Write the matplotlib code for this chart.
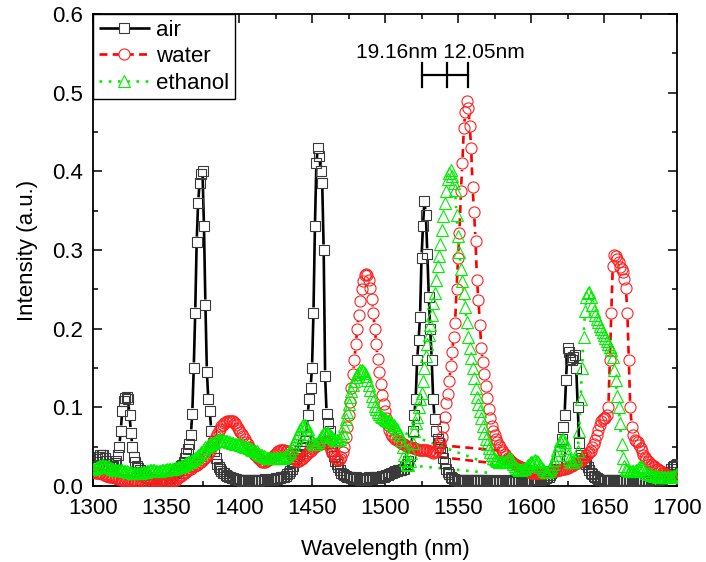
import numpy as np
import matplotlib
matplotlib.use('Agg')
import matplotlib.pyplot as plt
from matplotlib.collections import LineCollection
from matplotlib.lines import Line2D
from matplotlib.ticker import MultipleLocator

plt.rcParams['font.family'] = ['Liberation Sans', 'DejaVu Sans']

# spectra, 1 nm step from 1300 to 1700 nm
wavelength = np.arange(1300, 1701)

air = [
    0.022, 0.026, 0.030, 0.034, 0.037, 0.039, 0.040, 0.039, 0.036, 0.032,  # 1300
    0.028, 0.025, 0.024, 0.025, 0.026, 0.029, 0.032, 0.040, 0.050, 0.070,  # 1310
    0.095, 0.108, 0.112, 0.113, 0.110, 0.090, 0.068, 0.050, 0.037, 0.030,  # 1320
    0.026, 0.023, 0.020, 0.018, 0.016, 0.014, 0.012, 0.011, 0.010, 0.009,  # 1330
    0.008, 0.007, 0.007, 0.006, 0.006, 0.006, 0.005, 0.005, 0.005, 0.006,  # 1340
    0.006, 0.007, 0.008, 0.010, 0.012, 0.014, 0.016, 0.018, 0.020, 0.023,  # 1350
    0.025, 0.027, 0.030, 0.036, 0.042, 0.047, 0.054, 0.065, 0.092, 0.150,  # 1360
    0.220, 0.310, 0.360, 0.385, 0.397, 0.400, 0.330, 0.230, 0.145, 0.110,  # 1370
    0.095, 0.070, 0.055, 0.045, 0.035, 0.028, 0.024, 0.021, 0.019, 0.017,  # 1380
    0.016, 0.014, 0.013, 0.012, 0.011, 0.010, 0.010, 0.009, 0.009, 0.008,  # 1390
    0.008, 0.007, 0.006, 0.007, 0.008, 0.007, 0.006, 0.007, 0.008, 0.007,  # 1400
    0.006, 0.007, 0.008, 0.007, 0.006, 0.008, 0.007, 0.008, 0.009, 0.008,  # 1410
    0.007, 0.008, 0.009, 0.008, 0.009, 0.010, 0.009, 0.010, 0.010, 0.011,  # 1420
    0.011, 0.012, 0.013, 0.015, 0.017, 0.019, 0.022, 0.026, 0.031, 0.035,  # 1430
    0.038, 0.041, 0.044, 0.048, 0.052, 0.057, 0.062, 0.090, 0.110, 0.125,  # 1440
    0.150, 0.220, 0.330, 0.410, 0.430, 0.420, 0.400, 0.385, 0.300, 0.140,  # 1450
    0.092, 0.080, 0.070, 0.055, 0.045, 0.038, 0.032, 0.028, 0.024, 0.020,  # 1460
    0.017, 0.015, 0.014, 0.013, 0.012, 0.011, 0.011, 0.010, 0.009, 0.010,  # 1470
    0.011, 0.010, 0.009, 0.008, 0.009, 0.010, 0.009, 0.008, 0.010, 0.011,  # 1480
    0.010, 0.009, 0.010, 0.011, 0.012, 0.011, 0.010, 0.012, 0.013, 0.012,  # 1490
    0.013, 0.014, 0.014, 0.015, 0.016, 0.017, 0.018, 0.019, 0.019, 0.020,  # 1500
    0.020, 0.020, 0.021, 0.022, 0.025, 0.028, 0.032, 0.038, 0.050, 0.070,  # 1510
    0.090, 0.110, 0.160, 0.185, 0.215, 0.290, 0.330, 0.362, 0.345, 0.295,  # 1520
    0.240, 0.200, 0.160, 0.110, 0.085, 0.070, 0.060, 0.055, 0.050, 0.043,  # 1530
    0.036, 0.029, 0.022, 0.018, 0.015, 0.012, 0.010, 0.009, 0.008, 0.008,  # 1540
    0.007, 0.006, 0.007, 0.008, 0.007, 0.006, 0.007, 0.008, 0.007, 0.006,  # 1550
    0.007, 0.008, 0.007, 0.006, 0.007, 0.007, 0.006, 0.007, 0.008, 0.007,  # 1560
    0.006, 0.007, 0.006, 0.005, 0.006, 0.007, 0.006, 0.005, 0.006, 0.007,  # 1570
    0.006, 0.005, 0.006, 0.007, 0.006, 0.005, 0.006, 0.007, 0.006, 0.006,  # 1580
    0.005, 0.006, 0.007, 0.006, 0.007, 0.008, 0.007, 0.006, 0.007, 0.008,  # 1590
    0.007, 0.007, 0.008, 0.007, 0.008, 0.009, 0.008, 0.008, 0.009, 0.009,  # 1600
    0.010, 0.011, 0.012, 0.014, 0.016, 0.019, 0.022, 0.026, 0.032, 0.038,  # 1610
    0.045, 0.060, 0.075, 0.090, 0.135, 0.175, 0.170, 0.162, 0.160, 0.164,  # 1620
    0.166, 0.150, 0.100, 0.055, 0.040, 0.036, 0.032, 0.030, 0.028, 0.024,  # 1630
    0.020, 0.017, 0.015, 0.013, 0.011, 0.010, 0.009, 0.008, 0.008, 0.007,  # 1640
    0.006, 0.007, 0.008, 0.007, 0.006, 0.007, 0.008, 0.007, 0.006, 0.007,  # 1650
    0.007, 0.006, 0.007, 0.008, 0.007, 0.006, 0.007, 0.008, 0.007, 0.006,  # 1660
    0.007, 0.008, 0.007, 0.006, 0.007, 0.008, 0.007, 0.006, 0.007, 0.007,  # 1670
    0.006, 0.007, 0.008, 0.007, 0.007, 0.007, 0.008, 0.008, 0.008, 0.009,  # 1680
    0.009, 0.010, 0.011, 0.013, 0.015, 0.018, 0.021, 0.024, 0.026, 0.027,  # 1690
    0.028]

water = [
    0.018, 0.018, 0.017, 0.017, 0.016, 0.016, 0.015, 0.015, 0.014, 0.013,  # 1300
    0.013, 0.012, 0.012, 0.011, 0.011, 0.010, 0.010, 0.009, 0.009, 0.008,  # 1310
    0.008, 0.008, 0.007, 0.007, 0.007, 0.006, 0.006, 0.006, 0.005, 0.005,  # 1320
    0.005, 0.005, 0.005, 0.004, 0.004, 0.004, 0.004, 0.004, 0.004, 0.004,  # 1330
    0.004, 0.004, 0.004, 0.004, 0.004, 0.004, 0.004, 0.004, 0.004, 0.004,  # 1340
    0.004, 0.004, 0.004, 0.005, 0.005, 0.006, 0.007, 0.008, 0.010, 0.011,  # 1350
    0.013, 0.014, 0.016, 0.017, 0.018, 0.020, 0.021, 0.022, 0.024, 0.025,  # 1360
    0.026, 0.027, 0.028, 0.030, 0.031, 0.033, 0.035, 0.036, 0.038, 0.041,  # 1370
    0.045, 0.049, 0.053, 0.058, 0.062, 0.066, 0.070, 0.073, 0.076, 0.078,  # 1380
    0.080, 0.081, 0.082, 0.083, 0.083, 0.083, 0.082, 0.080, 0.077, 0.074,  # 1390
    0.071, 0.069, 0.066, 0.063, 0.060, 0.056, 0.053, 0.050, 0.047, 0.044,  # 1400
    0.041, 0.039, 0.037, 0.035, 0.034, 0.032, 0.031, 0.031, 0.031, 0.032,  # 1410
    0.033, 0.034, 0.036, 0.037, 0.039, 0.041, 0.043, 0.045, 0.046, 0.046,  # 1420
    0.046, 0.046, 0.045, 0.044, 0.043, 0.041, 0.039, 0.036, 0.034, 0.033,  # 1430
    0.032, 0.032, 0.033, 0.034, 0.036, 0.038, 0.040, 0.042, 0.044, 0.045,  # 1440
    0.047, 0.048, 0.050, 0.051, 0.052, 0.053, 0.054, 0.055, 0.056, 0.057,  # 1450
    0.056, 0.053, 0.050, 0.046, 0.042, 0.039, 0.036, 0.034, 0.033, 0.034,  # 1460
    0.037, 0.043, 0.050, 0.062, 0.075, 0.090, 0.107, 0.124, 0.142, 0.160,  # 1470
    0.180, 0.200, 0.218, 0.235, 0.250, 0.261, 0.268, 0.270, 0.268, 0.262,  # 1480
    0.252, 0.238, 0.220, 0.200, 0.180, 0.162, 0.145, 0.130, 0.116, 0.104,  # 1490
    0.095, 0.087, 0.078, 0.071, 0.066, 0.063, 0.061, 0.060, 0.058, 0.057,  # 1500
    0.056, 0.055, 0.054, 0.053, 0.052, 0.051, 0.050, 0.050, 0.049, 0.048,  # 1510
    0.048, 0.047, 0.047, 0.046, 0.046, 0.046, 0.046, 0.046, 0.046, 0.046,  # 1520
    0.045, 0.044, 0.043, 0.042, 0.043, 0.045, 0.048, 0.052, 0.056, 0.062,  # 1530
    0.075, 0.088, 0.105, 0.117, 0.133, 0.152, 0.170, 0.190, 0.207, 0.250,  # 1540
    0.290, 0.322, 0.375, 0.410, 0.455, 0.475, 0.490, 0.480, 0.458, 0.430,  # 1550
    0.380, 0.348, 0.312, 0.262, 0.237, 0.205, 0.175, 0.157, 0.142, 0.127,  # 1560
    0.112, 0.098, 0.087, 0.076, 0.070, 0.065, 0.060, 0.056, 0.052, 0.049,  # 1570
    0.046, 0.043, 0.041, 0.038, 0.036, 0.034, 0.032, 0.030, 0.029, 0.028,  # 1580
    0.027, 0.026, 0.025, 0.024, 0.023, 0.022, 0.021, 0.020, 0.019, 0.018,  # 1590
    0.017, 0.017, 0.016, 0.016, 0.016, 0.016, 0.016, 0.017, 0.017, 0.017,  # 1600
    0.018, 0.018, 0.018, 0.018, 0.018, 0.019, 0.019, 0.019, 0.020, 0.020,  # 1610
    0.020, 0.021, 0.021, 0.022, 0.023, 0.023, 0.024, 0.025, 0.026, 0.027,  # 1620
    0.028, 0.029, 0.029, 0.030, 0.032, 0.033, 0.035, 0.037, 0.039, 0.041,  # 1630
    0.043, 0.045, 0.049, 0.053, 0.059, 0.065, 0.071, 0.078, 0.082, 0.085,  # 1640
    0.086, 0.087, 0.090, 0.100, 0.160, 0.220, 0.280, 0.294, 0.292, 0.289,  # 1650
    0.285, 0.279, 0.276, 0.272, 0.263, 0.252, 0.220, 0.160, 0.100, 0.075,  # 1660
    0.065, 0.058, 0.057, 0.056, 0.052, 0.048, 0.045, 0.040, 0.037, 0.034,  # 1670
    0.032, 0.030, 0.028, 0.027, 0.025, 0.024, 0.022, 0.021, 0.020, 0.019,  # 1680
    0.017, 0.016, 0.015, 0.014, 0.013, 0.013, 0.012, 0.012, 0.011, 0.011,  # 1690
    0.010]

ethanol = [
    0.021, 0.022, 0.023, 0.024, 0.025, 0.026, 0.027, 0.027, 0.026, 0.025,  # 1300
    0.025, 0.024, 0.023, 0.022, 0.021, 0.020, 0.020, 0.020, 0.020, 0.020,  # 1310
    0.020, 0.019, 0.019, 0.019, 0.018, 0.018, 0.018, 0.017, 0.017, 0.017,  # 1320
    0.017, 0.017, 0.017, 0.017, 0.018, 0.018, 0.018, 0.019, 0.019, 0.020,  # 1330
    0.020, 0.020, 0.020, 0.019, 0.019, 0.019, 0.019, 0.020, 0.020, 0.020,  # 1340
    0.020, 0.021, 0.021, 0.022, 0.022, 0.022, 0.023, 0.023, 0.024, 0.024,  # 1350
    0.025, 0.026, 0.027, 0.028, 0.029, 0.030, 0.031, 0.032, 0.033, 0.034,  # 1360
    0.035, 0.037, 0.039, 0.041, 0.043, 0.045, 0.047, 0.049, 0.050, 0.052,  # 1370
    0.053, 0.054, 0.055, 0.056, 0.057, 0.058, 0.058, 0.058, 0.058, 0.058,  # 1380
    0.058, 0.057, 0.057, 0.056, 0.056, 0.055, 0.055, 0.054, 0.054, 0.053,  # 1390
    0.053, 0.052, 0.052, 0.051, 0.050, 0.050, 0.049, 0.048, 0.047, 0.046,  # 1400
    0.046, 0.045, 0.044, 0.042, 0.041, 0.040, 0.039, 0.038, 0.037, 0.036,  # 1410
    0.036, 0.035, 0.035, 0.035, 0.035, 0.035, 0.035, 0.036, 0.036, 0.036,  # 1420
    0.036, 0.037, 0.038, 0.040, 0.042, 0.045, 0.048, 0.052, 0.056, 0.060,  # 1430
    0.064, 0.068, 0.072, 0.076, 0.078, 0.078, 0.076, 0.072, 0.066, 0.060,  # 1440
    0.056, 0.054, 0.053, 0.054, 0.056, 0.059, 0.062, 0.065, 0.067, 0.068,  # 1450
    0.068, 0.067, 0.065, 0.063, 0.062, 0.060, 0.059, 0.058, 0.058, 0.060,  # 1460
    0.063, 0.068, 0.076, 0.085, 0.094, 0.104, 0.113, 0.121, 0.128, 0.134,  # 1470
    0.139, 0.143, 0.145, 0.147, 0.147, 0.146, 0.144, 0.140, 0.135, 0.129,  # 1480
    0.122, 0.115, 0.108, 0.102, 0.098, 0.094, 0.091, 0.089, 0.088, 0.086,  # 1490
    0.085, 0.084, 0.083, 0.082, 0.081, 0.079, 0.077, 0.075, 0.072, 0.069,  # 1500
    0.065, 0.058, 0.050, 0.040, 0.033, 0.028, 0.027, 0.032, 0.042, 0.055,  # 1510
    0.070, 0.080, 0.088, 0.100, 0.110, 0.118, 0.133, 0.150, 0.165, 0.180,  # 1520
    0.192, 0.205, 0.218, 0.232, 0.245, 0.262, 0.280, 0.292, 0.308, 0.326,  # 1530
    0.343, 0.360, 0.375, 0.390, 0.398, 0.402, 0.394, 0.385, 0.376, 0.345,  # 1540
    0.318, 0.298, 0.276, 0.260, 0.245, 0.227, 0.208, 0.190, 0.176, 0.163,  # 1550
    0.150, 0.137, 0.125, 0.113, 0.104, 0.095, 0.086, 0.076, 0.067, 0.060,  # 1560
    0.054, 0.048, 0.043, 0.039, 0.036, 0.034, 0.033, 0.032, 0.031, 0.030,  # 1570
    0.030, 0.030, 0.031, 0.032, 0.034, 0.035, 0.034, 0.031, 0.028, 0.025,  # 1580
    0.023, 0.021, 0.020, 0.020, 0.021, 0.022, 0.023, 0.025, 0.027, 0.029,  # 1590
    0.030, 0.031, 0.032, 0.033, 0.032, 0.030, 0.027, 0.024, 0.021, 0.019,  # 1600
    0.018, 0.018, 0.019, 0.021, 0.024, 0.028, 0.033, 0.040, 0.046, 0.052,  # 1610
    0.057, 0.060, 0.060, 0.056, 0.048, 0.040, 0.034, 0.031, 0.030, 0.031,  # 1620
    0.033, 0.036, 0.045, 0.070, 0.110, 0.150, 0.190, 0.222, 0.240, 0.245,  # 1630
    0.247, 0.240, 0.230, 0.222, 0.217, 0.212, 0.208, 0.204, 0.200, 0.196,  # 1640
    0.192, 0.188, 0.184, 0.181, 0.177, 0.173, 0.164, 0.148, 0.135, 0.115,  # 1650
    0.100, 0.080, 0.054, 0.035, 0.025, 0.021, 0.020, 0.019, 0.019, 0.019,  # 1660
    0.019, 0.019, 0.020, 0.022, 0.024, 0.025, 0.024, 0.022, 0.019, 0.017,  # 1670
    0.016, 0.015, 0.014, 0.014, 0.013, 0.013, 0.013, 0.012, 0.012, 0.012,  # 1680
    0.012, 0.012, 0.012, 0.012, 0.012, 0.012, 0.012, 0.013, 0.013, 0.014,  # 1690
    0.015]

# straight pieces where the recorded traces jump back across the 1530-1580 dip
water_jump_x = [[1537, 1579], [1537, 1574]]
water_jump_y = [[0.052, 0.045], [0.037, 0.029]]
ethanol_jump_x = [[1514, 1567], [1524, 1570]]
ethanol_jump_y = [[0.067, 0.031], [0.025, 0.017]]

# peak spacing marker
bracket_x = [1525.1, 1542.7, 1556.6]
bracket_y = 0.5225
bracket_h = 0.031
shift_labels = '19.16nm 12.05nm'

fig = plt.figure(figsize=(7.06, 5.62), dpi=100)
ax = fig.add_axes([93 / 706, 76 / 562, 584 / 706, 472 / 562])
ax.set_xlim(1300, 1700)
ax.set_ylim(0, 0.6)


def gapped_line(ax, x, y, gap, **kw):
    # Origin style: line pieces stop short of each symbol
    pts = ax.transData.transform(np.column_stack([x, y]))
    inv = ax.transData.inverted()
    segs = []
    for p0, p1 in zip(pts[:-1], pts[1:]):
        d = np.hypot(*(p1 - p0))
        if d <= 2 * gap + 1:
            continue
        u = (p1 - p0) / d
        segs.append(inv.transform(np.array([p0 + u * gap, p1 - u * gap])))
    ax.add_collection(LineCollection(segs, **kw))


green = '#00ee00'
styles = [
    (air, 'black', '#3a3a3a', 's', 6.5, (0, ()), 5.5, 'air'),
    (water, 'red', '#ff2020', 'o', 8.0, (0, (3, 2)), 6.5, 'water'),
    (ethanol, green, green, '^', 8.0, (0, (1, 2.5)), 6.5, 'ethanol'),
]

handles = []
for vals, lc, mc, mk, ms, ls, gap, name in styles:
    gapped_line(ax, wavelength, vals, gap, colors=lc, linewidths=1.9,
                linestyles=[ls], zorder=2)
    ax.plot(wavelength, vals, ls='none', marker=mk, ms=ms, mfc='none',
            mec=mc, mew=0.8, zorder=3)
    handles.append(Line2D([], [], color=lc, lw=1.9, ls=ls, marker=mk, ms=ms,
                          mfc='white', mec=mc, mew=0.8, label=name))

for xs, ys in zip(water_jump_x, water_jump_y):
    ax.plot(xs, ys, color='red', lw=1.9, ls=(0, (3, 2)), zorder=2)
for xs, ys in zip(ethanol_jump_x, ethanol_jump_y):
    ax.plot(xs, ys, color=green, lw=1.9, ls=(0, (1, 2.5)), zorder=2)

ax.plot([bracket_x[0], bracket_x[-1]], [bracket_y, bracket_y], color='black', lw=1.6)
for bx in bracket_x:
    ax.plot([bx, bx], [bracket_y - bracket_h / 2, bracket_y + bracket_h / 2],
            color='black', lw=1.6)
ax.text(np.mean([bracket_x[0], bracket_x[-1]]) - 3, bracket_y + 0.022, shift_labels,
        ha='center', va='baseline', fontsize=15)

leg = ax.legend(handles=handles, loc='upper left', bbox_to_anchor=(0, 1),
                borderaxespad=0, fontsize=16, handlelength=2.3, handletextpad=0.3,
                labelspacing=0.25, borderpad=0.25, fancybox=False, framealpha=1)
leg.get_frame().set_edgecolor('black')
leg.get_frame().set_linewidth(1.0)

ax.xaxis.set_major_locator(MultipleLocator(50))
ax.xaxis.set_minor_locator(MultipleLocator(25))
ax.yaxis.set_major_locator(MultipleLocator(0.1))
ax.yaxis.set_minor_locator(MultipleLocator(0.05))
ax.tick_params(which='both', direction='in', top=True, right=True, width=1.1, labelsize=16)
ax.tick_params(which='major', length=6.5)
ax.tick_params(which='minor', length=3.5)
ax.tick_params(axis='x', pad=9)
ax.tick_params(axis='y', pad=7)
ax.yaxis.set_major_formatter(matplotlib.ticker.FormatStrFormatter('%.1f'))
for s in ax.spines.values():
    s.set_linewidth(1.3)

ax.set_xlabel('Wavelength (nm)', fontsize=16, labelpad=14)
ax.set_ylabel('Intensity (a.u.)', fontsize=16, labelpad=10)

fig.savefig('out.png', dpi=100)
